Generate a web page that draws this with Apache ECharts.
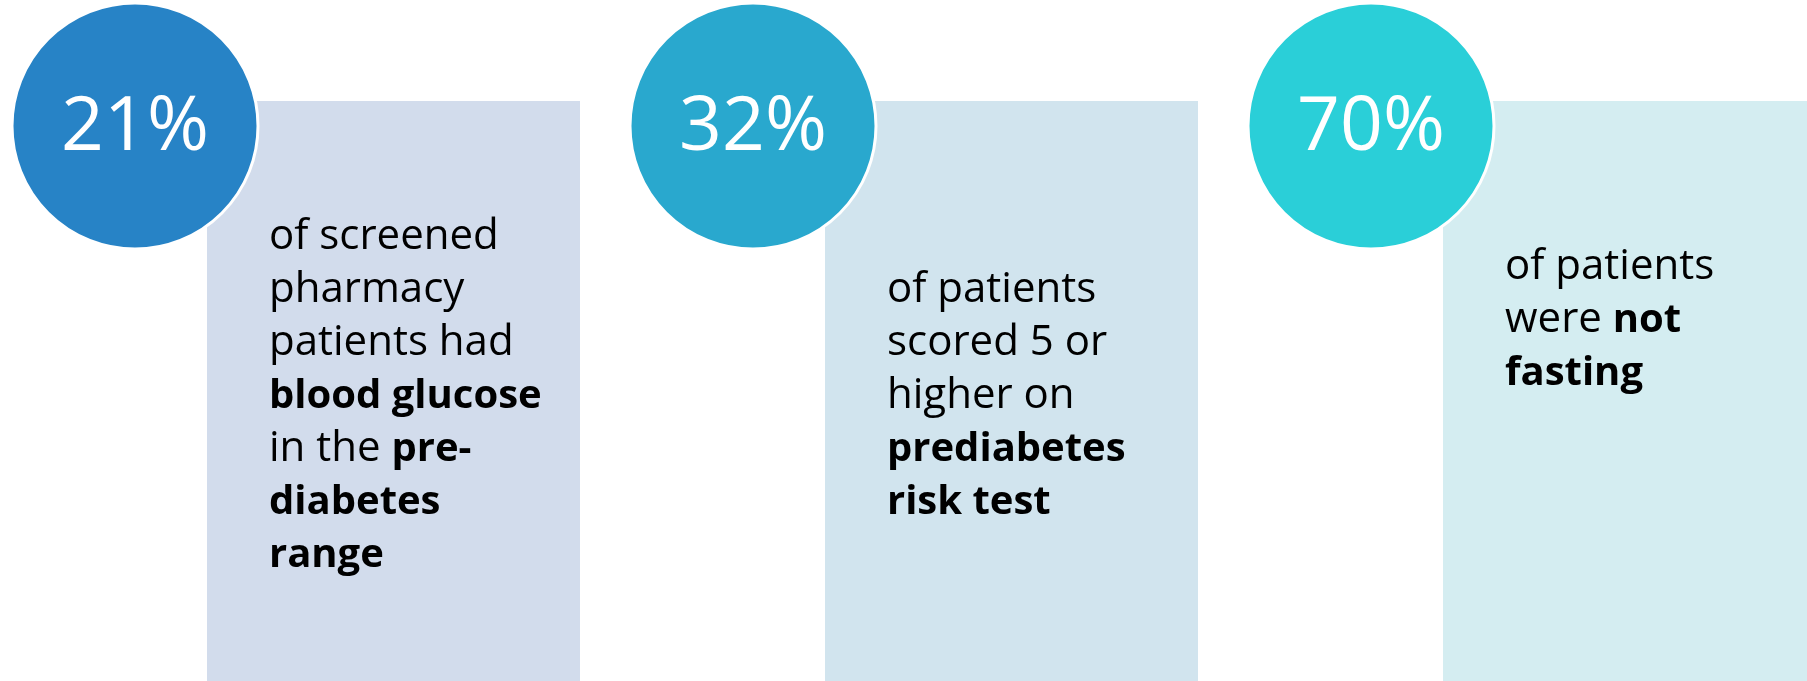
<!DOCTYPE html>
<html>
<head>
<meta charset="utf-8">
<script src="https://cdn.jsdelivr.net/npm/echarts@6/dist/echarts.min.js"></script>
<style>
  html, body { margin: 0; padding: 0; background: #ffffff; }
  #chart { width: 1807px; height: 681px; }
</style>
</head>
<body>
<div id="chart"></div>
<script>
// Screening findings: one panel per statistic
const categories = ['glucose', 'riskTest', 'fasting'];
const percentValues = [21, 32, 70];
const descriptions = [
  'of screened\npharmacy\npatients had\n{b|blood glucose}\nin the {b|pre-}\n{b|diabetes}\n{b|range}',
  'of patients\nscored 5 or\nhigher on\n{b|prediabetes}\n{b|risk test}',
  'of patients\nwere {b|not}\n{b|fasting}'
];

// Panel styling
const circleColors = ['#2783C6', '#29A8CE', '#2ACFD8'];
const panelColors = ['#D2DCEC', '#D1E4EE', '#D4EDF1'];
const textTop = [211, 264, 241];
const FONT = '"Open Sans", "Noto Sans", sans-serif';
const PANEL_PITCH = 618; // pixels per panel slot

const chart = echarts.init(document.getElementById('chart'), null, { renderer: 'canvas' });

chart.setOption({
  backgroundColor: '#ffffff',
  animation: false,
  grid: { left: 0, right: 0, top: 0, bottom: 0 },
  xAxis: { type: 'value', min: -0.5, max: -0.5 + 1807 / PANEL_PITCH, show: false },
  yAxis: { type: 'value', min: 0, max: 1, show: false },
  series: [{
    type: 'custom',
    data: percentValues.map((v, i) => [i, v]),
    renderItem: function (params, api) {
      const i = api.value(0);
      const pct = api.value(1);
      const center = api.coord([i, 1]);
      const bandX = center[0];
      const top = center[1];
      const cs = params.coordSys;
      const cx = bandX - 174;
      const cy = top + 126;
      const r = 123;
      return {
        type: 'group',
        children: [
          {
            type: 'rect',
            shape: { x: bandX - 102, y: top + 101, width: 373, height: cs.height - 101 },
            style: { fill: panelColors[i] }
          },
          {
            type: 'circle',
            shape: { cx: cx, cy: cy, r: r },
            style: { fill: circleColors[i], stroke: '#ffffff', lineWidth: 3 }
          },
          {
            type: 'text',
            x: cx,
            y: cy + 3,
            style: {
              text: pct + '%',
              fill: '#ffffff',
              fontFamily: FONT,
              fontWeight: 400,
              fontSize: 75,
              align: 'center',
              verticalAlign: 'middle'
            }
          },
          {
            type: 'text',
            x: bandX - 40,
            y: top + textTop[i],
            style: {
              text: descriptions[i],
              fill: '#000000',
              fontFamily: FONT,
              fontSize: 42,
              lineHeight: 53,
              align: 'left',
              verticalAlign: 'top',
              rich: {
                b: { fontFamily: FONT, fontWeight: 'bold', fontSize: 40, lineHeight: 53, fill: '#000000' }
              }
            }
          }
        ]
      };
    }
  }]
});
</script>
</body>
</html>
